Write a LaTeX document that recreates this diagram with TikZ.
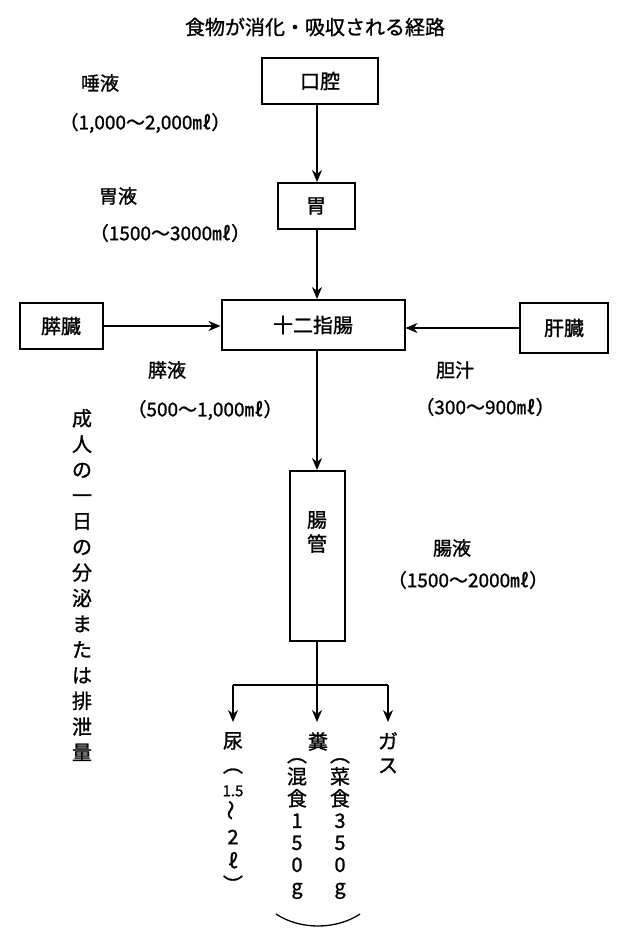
\documentclass[tikz,border=0pt]{standalone}
\usepackage{fontspec}
\usepackage{graphicx}
\setmainfont[AutoFakeBold=1.2]{Noto Sans CJK JP}
\usetikzlibrary{arrows.meta}
\begin{document}
\begin{tikzpicture}[x=1pt,y=-1pt,
  every node/.append style={font=\bfseries},
  box/.style={draw,line width=2pt,minimum height=46pt,font=\fontsize{20}{22}\selectfont\bfseries},
  lbl/.style={font=\fontsize{19}{22}\selectfont\bfseries},
  arr/.style={line width=1.3pt,-{Stealth[length=12pt,width=10pt]}},
  vt/.style={font=\fontsize{20}{24}\selectfont\bfseries,align=center,inner sep=0pt}]
\useasboundingbox (0,0) rectangle (640,931);
\node[font=\fontsize{20}{22}\selectfont\bfseries] (title) at (315,27) {食物が消化・吸収される経路};
\node[box,minimum width=116pt] (koku) at (320,81) {口腔};
\node[box,minimum width=77pt] (i) at (316,206) {胃};
\node[box,minimum width=183pt,minimum height=50pt] (juni) at (313,325) {十二指腸};
\node[box,minimum width=83pt] (sui) at (61,326) {膵臓};
\node[box,minimum width=88pt,minimum height=50pt] (kan) at (564,328) {肝臓};
\node[draw,line width=2pt,minimum width=55pt,minimum height=170pt,anchor=north] (cho) at (317,470) {};
\node[vt] (chot) at (317,532) {腸\\管};
\node[lbl] (l1) at (100,83) {唾液};
\node[lbl] (l1b) at (145,123) {（1,000～2,000㎖）};
\node[lbl] (l2) at (118,196) {胃液};
\node[lbl] (l2b) at (170,233) {（1500～3000㎖）};
\node[lbl] (l3) at (167,370) {膵液};
\node[lbl] (l3b) at (205,410) {（500～1,000㎖）};
\node[lbl] (l4) at (455,370) {胆汁};
\node[lbl] (l4b) at (485,407) {（300～900㎖）};
\node[lbl] (l5) at (452,548) {腸液};
\node[lbl] (l5b) at (468,580) {（1500～2000㎖）};
\node[vt,font=\fontsize{20}{25.7}\selectfont\bfseries] (side) at (82,585) {成\\人\\の\\一\\日\\の\\分\\泌\\ま\\た\\は\\排\\泄\\量};
\draw[arr] (koku.south -| 317,0) -- (i.north -| 317,0);
\draw[arr] (i.south -| 317,0) -- (juni.north -| 317,0);
\draw[arr] (sui.east) -- (sui.east -| juni.west);
\draw[arr] (kan.west) -- (kan.west -| juni.east);
\draw[arr] (juni.south -| cho.north) -- (cho.north);
\coordinate (br) at (317,685);
\coordinate (bl) at (233,685);
\coordinate (bq) at (388,685);
\coordinate (a1) at (233,722);
\coordinate (a2) at (317,722);
\coordinate (a3) at (388,722);
\draw[line width=1.3pt] (cho.south) -- (br);
\draw[line width=1.3pt] (bl) -- (bq);
\draw[arr] (bl) -- (a1);
\draw[arr] (br) -- (a2);
\draw[arr] (bq) -- (a3);
\node[vt,anchor=north] (nyo) at (233,732) {尿\\︵\\{\fontsize{15}{17}\selectfont 1.5}\\\rotatebox{90}{～}\\2\\ℓ\\︶};
\node[vt,anchor=north] (fun) at (318,732) {糞};
\node[vt,anchor=north,font=\fontsize{20}{22}\selectfont\bfseries] (f1) at (297,758) {︵\\混\\食\\1\\5\\0\\g};
\node[vt,anchor=north,font=\fontsize{20}{22}\selectfont\bfseries] (f2) at (340,758) {︵\\菜\\食\\3\\5\\0\\g};
\draw[line width=1.3pt] (276,914) .. controls (300,930) and (336,930) .. (360,914);
\node[vt,anchor=north] (gas) at (388,732) {ガ\\ス};
\end{tikzpicture}
\end{document}
